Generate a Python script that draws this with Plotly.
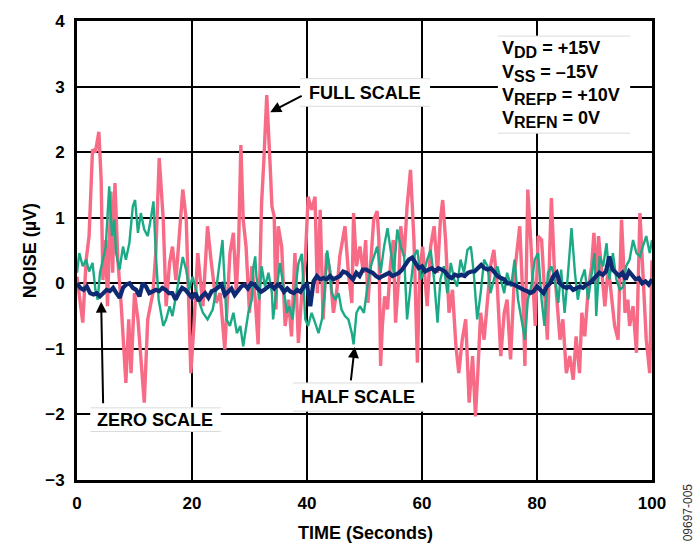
import plotly.graph_objects as go
import numpy as np

# ---------------- data ----------------
full_t = [0.0, 1.0, 1.6, 2.1, 2.7, 3.2, 3.8, 4.2, 4.5, 5.0, 5.3, 5.9, 6.2, 6.6, 7.1, 7.7, 8.5, 9.0, 9.4, 10.0,
          10.6, 11.1, 11.7, 12.3, 13.2, 13.7, 14.3, 15.0, 15.5, 16.1, 16.6, 17.2, 17.8, 18.4, 19.0, 19.8, 20.4,
          21.0, 21.9, 22.7, 23.3, 24.2,
          24.9, 25.7, 26.6, 27.2, 27.7, 28.1, 28.5, 28.9, 29.4, 30.0, 30.4, 31.0, 31.5, 32.1, 32.5, 33.0, 33.6,
          33.9, 34.3, 34.6, 35.0, 35.6, 36.2, 36.8, 37.3, 37.9, 38.5, 39.1, 39.7, 40.2, 40.8, 41.4, 41.8, 42.3,
          42.8, 43.4, 44.0, 44.6, 45.2, 45.7, 46.6, 47.2, 47.8, 48.1, 48.6, 49.2, 49.8,
          50.2, 50.6, 51.2, 51.6, 52.2, 52.5, 52.8, 53.1, 53.5, 54.0, 54.5, 55.0, 55.4, 56.0, 56.3, 56.9, 57.4,
          58.0, 58.6, 59.2, 59.6, 60.1, 60.9, 61.5, 62.1, 62.7, 63.2, 63.6, 64.1, 64.7, 65.3, 65.9, 66.4, 67.0,
          67.6, 68.2, 68.8, 69.3, 69.7, 70.2, 70.8, 71.4, 71.9, 72.5, 73.1, 73.7, 74.3, 74.8,
          75.4, 76.1, 77.0, 77.6, 77.9, 78.1, 78.4, 78.9, 79.3, 79.7, 80.2, 80.8, 81.3, 81.8, 82.2, 82.5, 83.0,
          83.5, 84.0, 84.5, 85.1, 85.7, 86.3, 86.8, 87.4, 87.8, 88.3, 88.9, 89.5, 89.9, 90.3, 90.7, 91.2, 91.8,
          92.4, 93.0, 93.5, 94.1, 94.7, 95.0, 95.3, 95.8, 96.1, 96.7, 97.3, 97.9, 98.4, 99.0, 99.6, 100.0]
full_v = [0.1, -0.6, 0.36, 0.72, 2.04, 2.0, 2.31, 1.58, 0.05, 0.66, -0.35, 1.4, 0.16, 1.53, 0.36, -0.35, -1.52, -0.55, -1.37, -0.15,
          -0.55, -1.06, -1.82, -0.55, -0.15, 0.46, 1.91, 0.97, -0.35, 0.31, 0.56, 0.05, 0.72, 1.43, 0.97, -1.37, -0.55,
          0.46, -0.35, 0.87, 0.36, -0.3,
          -0.15, -1.01, 0.46, 0.77, -0.15, 0.56, 2.11, 0.97, 0.56, -0.45, 0.26, -0.25, -0.93, 1.22, 1.88, 2.87, 1.78,
          1.17, 1.02, -0.4, 0.87, 0.56, -0.65, -0.25, -0.81, 0.46, -0.91, -0.15, 0.36, 1.32, 1.12, 1.32, -0.15, 1.12,
          -0.55, 0.46, 0.16, -0.45, -0.1, 0.41, 0.87, 0.16, -0.3, 1.07, 0.26, 0.56, 0.16,
          0.66, -0.3, 0.51, 0.97, 1.1, 0.66, -1.26, -0.65, -0.2, -0.4, 0.26, 0.66, -0.6, 0.16, 0.87, 0.41, 1.17,
          1.73, 0.66, -1.21, 0.16, 0.56, -0.35, 0.56, 0.87, 0.16, 0.97, 1.27, 0.66, -0.45, -0.1, -0.96, -1.37, -0.86,
          -0.55, -1.82, -1.11, -2.03, -1.37, -0.45, -0.86, -0.2, 0.26, 0.51, -0.05, -1.11, -0.45, -0.25,
          -1.16, 0.16, 0.87, -0.35, -1.26, -0.05, 1.43, 0.66, -0.1, -0.65, 0.72, 0.66, -0.1, -0.86, 0.46, 1.3, 0.26,
          -0.35, -0.86, -0.55, -1.37, -1.11, -1.47, -0.81, -1.37, -0.45, -0.81, -0.1, 0.26, 0.77, 0.0, 0.72, 0.16, -0.35,
          0.26, -0.25, -0.65, -0.86, 0.97, 0.41, -0.45, -0.25, -0.65, -0.35, -1.06, 1.07, 0.16, -0.86, -1.37, 0.35]

half_t = [0.0, 0.4, 1.0, 1.6, 2.1, 2.7, 3.2, 3.6, 4.0, 4.5, 5.0, 5.6, 6.1, 6.5, 6.8, 7.4, 8.0, 8.5, 9.1, 9.7,
          10.1, 10.6, 11.1, 11.7, 12.3, 12.9, 13.3, 13.7, 14.2, 14.6, 15.0, 15.5, 16.1, 16.6, 17.2, 17.8, 18.4,
          19.0, 19.5, 20.1, 20.7, 21.3, 21.9, 22.7, 23.6, 24.2,
          25.3, 26.0, 26.6, 27.2, 27.8, 28.4, 28.9, 29.4, 29.8, 30.4, 30.7, 31.0, 31.2, 31.7, 32.1, 32.7, 33.3,
          33.9, 34.1, 34.7, 35.3, 35.9, 36.5, 36.9, 37.5, 37.9, 38.5, 39.1, 39.7, 40.2, 40.8, 41.4, 42.0, 42.6,
          43.1, 43.5, 44.0, 44.3, 44.9, 45.5, 46.0, 46.6, 47.2, 47.8, 48.1, 48.6, 49.2, 49.9,
          50.5, 51.1, 51.7, 52.2, 52.8, 53.4, 54.0, 54.5, 55.1, 55.7, 56.3, 56.9, 57.4, 58.0, 58.6, 59.2, 59.8,
          60.3, 60.9, 61.5, 62.1, 62.7, 63.2, 63.8, 64.4, 65.0, 65.6, 66.1, 66.7, 67.3, 67.9, 68.5, 69.0, 69.6,
          70.2, 70.8, 71.4, 71.9, 72.5, 73.1, 73.7, 74.3, 74.8,
          75.5, 76.1, 76.7, 77.3, 77.9, 78.4, 79.0, 79.6, 80.2, 80.8, 81.3, 81.9, 82.5, 83.1, 83.7, 84.2, 84.8,
          85.4, 86.0, 86.6, 87.1, 87.7, 88.3, 88.9, 89.5, 90.0, 90.3, 90.9, 91.5, 92.1, 92.6, 93.2, 93.8, 94.4,
          95.0, 95.5, 96.1, 96.7, 97.3, 97.9, 98.4, 99.0, 99.6, 100.0]
half_v = [0.16, 0.46, 0.26, 0.36, 0.18, 0.31, -0.1, -0.25, 0.16, 0.36, 0.56, 1.48, 0.72, 0.97, 0.46, 0.21, 0.56, 0.36, 0.61, 1.17,
          1.27, 0.77, 1.07, 0.82, 0.72, 1.02, 1.25, 0.46, -0.25, -0.45, -0.65, -0.55, -0.35, -0.5, -0.2, 0.1, 0.4,
          0.2, -0.1, 0.1, -0.1, -0.3, -0.45, -0.55, -0.4, -0.1,
          0.66, -0.55, -0.65, -0.45, -0.76, -0.65, -0.96, -0.65, -0.45, -0.25, 0.26, 0.41, 0.11, -0.25, 0.26, -0.05, 0.16,
          -0.15, -0.55, -0.1, 0.31, -0.05, -0.45, -0.35, -0.55, -0.15, 0.3, 0.45, -0.55, -0.65, -0.45, -0.6, -0.76, -0.55,
          -0.1, 0.5, 0.2, -0.15, -0.25, -0.15, -0.4, -0.5, -0.55, -0.76, -0.93, -0.45, -0.35, -0.45,
          -0.05, 0.26, 0.41, 0.56, 0.16, 0.56, 0.84, 0.56, 0.16, 0.82, 0.56, 0.41, -0.55, -0.05, 0.41, 0.51, 0.06,
          0.16, 0.36, 0.51, 0.06, -0.6, 0.06, 0.26, -0.15, 0.31, 0.06, -0.05, 0.36, 0.16, 0.51, 0.56, 0.16, -0.55,
          -0.15, 0.36, 0.26, -0.15, 0.06, 0.26, 0.06, -0.15, 0.16,
          -0.05, 0.36, -0.25, -0.55, -0.86, -0.25, -0.05, 0.36, 0.46, -0.25, -0.65, 0.16, 0.26, 0.06, -0.3, 0.21, -0.45,
          0.16, 0.84, 0.16, -0.25, 0.06, 0.21, -0.25, 0.16, 0.46, -0.5, 0.41, 0.26, 0.61, 0.06, 0.46, 0.06, -0.1,
          -0.05, 0.26, 0.36, 0.66, 0.46, 0.41, 0.56, 0.72, 0.46, 0.66]

# zero-scale trace, evenly sampled over 0..100 s
zero_v = [0.0, -0.07, -0.1, -0.05, -0.15, -0.17, -0.15, -0.2, -0.15, -0.1, -0.12, -0.07, -0.15, -0.22, -0.07, -0.02,
          0.0, -0.07, -0.1, -0.2, 0.0, -0.05, -0.15, -0.12, -0.1, -0.12, -0.07, -0.1, -0.15, -0.15, -0.25, -0.15,
          -0.07, -0.1, -0.17, -0.22, -0.15, -0.27, -0.2, -0.15, -0.22, -0.12, -0.1, -0.05,
          -0.02, -0.18, -0.13, -0.08, -0.18, -0.1, -0.05, -0.02, -0.08, 0.0, -0.02, -0.08, -0.13, -0.1, -0.05, -0.02,
          -0.08, -0.02, -0.05, -0.13, -0.08, -0.13, -0.15, -0.1, -0.13, -0.05, -0.02, -0.35, 0.03, 0.11, 0.06, 0.08,
          0.06, 0.11, 0.06, 0.08, 0.11, 0.18, 0.16, 0.11, 0.06, 0.16, 0.11, 0.21,
          0.21, 0.18, 0.16, 0.11, 0.08, 0.11, 0.13, 0.16, 0.11, 0.13, 0.16, 0.21, 0.28, 0.36, 0.39, 0.31, 0.23, 0.26,
          0.18, 0.21, 0.23, 0.18, 0.23, 0.21, 0.18, 0.11, 0.08, 0.13, 0.11, 0.13, 0.11, 0.16, 0.18, 0.18, 0.23, 0.28,
          0.23, 0.21, 0.23, 0.16, 0.11, 0.08, 0.06, 0.0,
          0.0, -0.02, -0.05, -0.07, -0.1, -0.12, -0.15, -0.12, -0.05, -0.1, -0.15, -0.05, 0.0, 0.11, 0.16, 0.0, -0.05,
          -0.07, -0.05, -0.1, -0.07, -0.05, -0.07, -0.02, 0.0, 0.06, 0.11, 0.16, 0.13, 0.18, 0.41, 0.21, 0.16, 0.11,
          0.16, 0.06, 0.18, 0.11, 0.06, 0.08, 0.0, 0.03, -0.02, 0.06]
zero_t = np.linspace(0, 100, len(zero_v))

x_ticks = [0, 20, 40, 60, 80, 100]
y_ticks = [-3, -2, -1, 0, 1, 2, 3, 4]

# ---------------- styling ----------------
FONT = "Liberation Sans, Arial, Helvetica, sans-serif"
PINK = "#f76b86"
TEAL = "#1caa86"
NAVY = "#0d2a73"

fig = go.Figure()
fig.add_trace(go.Scatter(x=full_t, y=full_v, mode="lines", line=dict(color=PINK, width=3.4), hoverinfo="skip"))
fig.add_trace(go.Scatter(x=half_t, y=half_v, mode="lines", line=dict(color=TEAL, width=2.4), hoverinfo="skip"))
fig.add_trace(go.Scatter(x=zero_t, y=zero_v, mode="lines", line=dict(color=NAVY, width=4.2), hoverinfo="skip"))

# white label boxes (with faint top/bottom edges)
boxes = [(38.8, 61.4, 2.70, 3.12), (37.6, 60.3, -1.95, -1.52), (2.3, 25.0, -2.26, -1.90), (73.2, 96.2, 2.29, 3.77)]
for x0, x1, y0, y1 in boxes:
    fig.add_shape(type="rect", x0=x0, x1=x1, y0=y0, y1=y1, fillcolor="white", line=dict(width=0), layer="above")
    for yy in (y0, y1):
        fig.add_shape(type="line", x0=x0, x1=x1, y0=yy, y1=yy, line=dict(color="#d9dcdc", width=1), layer="above")

lab = dict(family=FONT, size=18, color="black", weight="bold")

# arrows
def arrow(x, y, ax, ay):
    fig.add_annotation(x=x, y=y, ax=ax, ay=ay, text="", showarrow=True, arrowhead=2, arrowsize=1.1,
                       arrowwidth=2, arrowcolor="black")

arrow(33.6, 2.61, 33, -17)
arrow(48.3, -0.97, -4, 35)
arrow(4.2, -0.28, 2, 103)

fig.add_annotation(x=50.1, y=2.90, text="FULL SCALE", showarrow=False, font=lab, xanchor="center", yanchor="middle")
fig.add_annotation(x=48.9, y=-1.73, text="HALF SCALE", showarrow=False, font=lab, xanchor="center", yanchor="middle")
fig.add_annotation(x=13.6, y=-2.08, text="ZERO SCALE", showarrow=False, font=lab, xanchor="center", yanchor="middle")

def sub(s):
    return "<sub><span style='font-size:16px'>" + s + "</span></sub>"

vlines = ["V" + sub("DD") + " = +15V", "V" + sub("SS") + " = –15V",
          "V" + sub("REFP") + " = +10V", "V" + sub("REFN") + " = 0V"]
vys = [3.56, 3.20, 2.85, 2.50]
for txt, yy in zip(vlines, vys):
    fig.add_annotation(x=73.6, y=yy, text=txt, showarrow=False, font=lab, xanchor="left", yanchor="middle")

# axis titles & figure code
fig.add_annotation(xref="paper", yref="paper", x=0.501, y=-0.115, text="TIME (Seconds)", showarrow=False,
                   font=lab, xanchor="center", yanchor="middle")
fig.add_annotation(xref="paper", yref="paper", x=-0.082, y=0.50, text="NOISE (µV)", showarrow=False,
                   font=lab, textangle=-90, xanchor="center", yanchor="middle")
fig.add_annotation(xref="paper", yref="paper", x=1.063, y=-0.07, text="09697-005", showarrow=False,
                   font=dict(family=FONT, size=12, color="#333"), textangle=-90, xanchor="center", yanchor="middle")

axis_common = dict(showgrid=True, gridcolor="black", gridwidth=2, zeroline=False, showline=True,
                   linecolor="black", linewidth=3, mirror=True, ticks="outside", ticklen=6,
                   tickcolor="rgba(0,0,0,0)", tickfont=dict(family=FONT, size=17, color="black", weight="bold"))
fig.update_xaxes(range=[0, 100], tickvals=x_ticks, **axis_common)
fig.update_yaxes(range=[-3, 4], tickvals=y_ticks, **axis_common)

fig.update_layout(width=700, height=556, margin=dict(l=77, r=48, t=21, b=76),
                  paper_bgcolor="white", plot_bgcolor="white", showlegend=False)

fig.write_html("out.html")
